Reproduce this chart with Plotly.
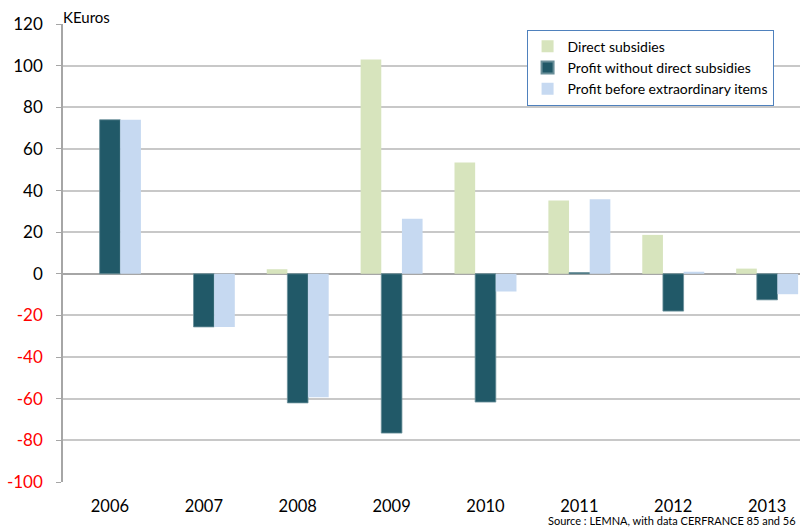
import plotly.graph_objects as go

years = ["2006", "2007", "2008", "2009", "2010", "2011", "2012", "2013"]
direct_subsidies = [0, 0, 2.2, 103, 53.5, 35.2, 18.7, 2.5]
profit_without = [74, -25.5, -62, -76.5, -61.6, 0.6, -17.9, -12.5]
profit_before = [74, -25.5, -59.3, 26.5, -8.5, 35.8, 1, -9.8]

tick_vals = [120, 100, 80, 60, 40, 20, 0, -20, -40, -60, -80, -100]
tick_text = [str(v) if v >= 0 else f"<span style='color:#FF0000'>{v}</span>" for v in tick_vals]

font = "Lato, 'Open Sans', sans-serif"

fig = go.Figure()
fig.add_bar(x=years, y=direct_subsidies, name="Direct subsidies",
            marker=dict(color="#D7E4BD", line=dict(width=0)))
fig.add_bar(x=years, y=profit_without, name="Profit without direct subsidies",
            marker=dict(color="#215968", line=dict(width=0.8, color="#6A8F99")))
fig.add_bar(x=years, y=profit_before, name="Profit before extraordinary items",
            marker=dict(color="#C6D9F1", line=dict(width=0)))

fig.update_layout(
    width=804, height=527,
    margin=dict(l=63, r=4, t=24, b=44.5),
    paper_bgcolor="white", plot_bgcolor="white",
    barmode="group", bargap=0.34, bargroupgap=0,
    font=dict(family=font, size=16, color="#000000"),
    showlegend=True,
    legend=dict(x=0.629, y=0.9875, xanchor="left", yanchor="top",
                bordercolor="#4F81BD", borderwidth=1, bgcolor="white",
                font=dict(size=14, family=font), itemsizing="constant",
                tracegroupgap=0, itemwidth=30, traceorder="normal"),
    xaxis=dict(type="category", range=[-0.5, 7.35], showgrid=False,
               showline=False, ticks="", tickfont=dict(size=16.5),
               ticklabelstandoff=12),
    yaxis=dict(range=[-100, 120], tickvals=tick_vals, ticktext=tick_text,
               showgrid=True, gridcolor="#C8C8C8", gridwidth=1.5,
               zeroline=True, zerolinecolor="#A6A6A6", zerolinewidth=1.5,
               showline=True, linecolor="#A6A6A6", linewidth=1.5,
               ticks="outside", ticklen=5, tickcolor="#A6A6A6",
               tickfont=dict(size=17), ticklabelstandoff=10),
    annotations=[
        dict(text="KEuros", x=0, xref="paper", xanchor="left", xshift=-2,
             y=1, yref="paper", yanchor="middle", yshift=7, showarrow=False,
             font=dict(size=15, family=font)),
        dict(text="Source : LEMNA, with data CERFRANCE 85 and 56",
             x=1, xref="paper", xanchor="right", xshift=-2,
             y=0, yref="paper", yanchor="middle", yshift=-38.5, showarrow=False,
             font=dict(size=11, family=font)),
    ],
)

fig.write_html("out.html", config={"displayModeBar": False},
               post_script="document.body.style.margin='0';")
